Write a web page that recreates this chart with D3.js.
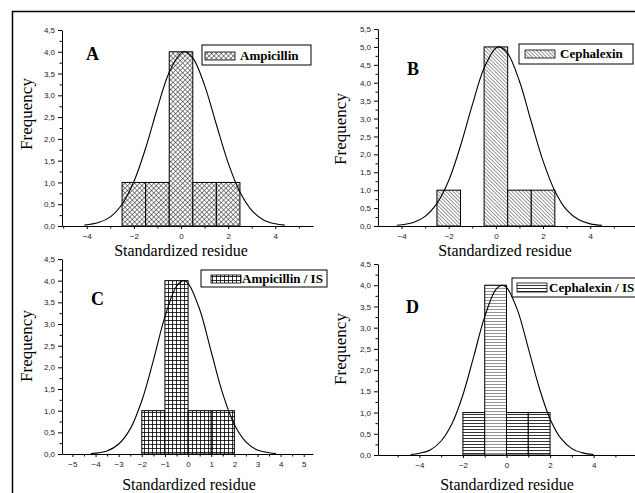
<!DOCTYPE html>
<html>
<head>
<meta charset="utf-8">
<script src="https://cdn.jsdelivr.net/npm/d3@7"></script>
<style>
    body { margin: 0; background: #fff; }
    svg { display: block; }
</style>
</head>
<body>
<svg id="chart" width="635" height="493"></svg>
<script>
// Histogram bins (left edge of each bin, width 1) and counts
const binLeftA = [-2.5, -1.5, -0.5, 0.5, 1.5];
const countsA = [1, 1, 4, 1, 1];
const binLeftB = [-2.5, -0.5, 0.5, 1.5];
const countsB = [1, 5, 1, 1];
const binLeftC = [-2, -1, 0, 1];
const countsC = [1, 4, 1, 1];
const binLeftD = [-2, -1, 0, 1];
const countsD = [1, 4, 1, 1];
const binWidth = 1;

// Normal fit curves
const fitXA = [-4.1, -3.5, -3, -2.5, -2, -1.5, -1, -0.5, 0, 0.15, 0.5, 1, 1.5, 2, 2.5, 3, 3.5, 4, 4.4];
const fitYA = [0.02, 0.08, 0.21, 0.50, 1.02, 1.79, 2.71, 3.53, 3.97, 4.0, 3.86, 3.23, 2.33, 1.45, 0.78, 0.36, 0.14, 0.05, 0.02];
const fitXB = [-4.2, -3.5, -3, -2.5, -2, -1.5, -1, -0.5, 0, 0.15, 0.5, 1, 1.5, 2, 2.5, 3, 3.5, 4, 4.5];
const fitYB = [0.02, 0.10, 0.27, 0.63, 1.27, 2.24, 3.38, 4.41, 4.97, 5.0, 4.82, 4.04, 2.91, 1.82, 0.98, 0.45, 0.18, 0.06, 0.02];
const fitXC = [-4.2, -3.5, -3, -2.5, -2, -1.5, -1, -0.5, -0.2, 0, 0.5, 1, 1.5, 2, 2.5, 3, 3.5, 3.8];
const fitYC = [0.01, 0.07, 0.23, 0.58, 1.23, 2.16, 3.17, 3.87, 4.0, 3.94, 3.34, 2.36, 1.39, 0.68, 0.28, 0.09, 0.03, 0.01];
const fitXD = [-4.4, -4, -3.5, -3, -2.5, -2, -1.5, -1, -0.5, -0.2, 0, 0.5, 1, 1.5, 2, 2.5, 3, 3.5, 4];
const fitYD = [0.01, 0.04, 0.12, 0.33, 0.74, 1.42, 2.33, 3.26, 3.89, 4.0, 3.95, 3.42, 2.52, 1.59, 0.85, 0.39, 0.15, 0.05, 0.01];

// Tick values
const xMajorEven = [-4, -2, 0, 2, 4];
const xMinorOdd = [-5, -3, -1, 1, 3, 5];
const xMajorC = [-5, -4, -3, -2, -1, 0, 1, 2, 3, 4, 5];
const xMinorC = [-5.5, -4.5, -3.5, -2.5, -1.5, -0.5, 0.5, 1.5, 2.5, 3.5, 4.5];
const yMajor45 = [0, 0.5, 1, 1.5, 2, 2.5, 3, 3.5, 4, 4.5];
const yMajor55 = [0, 0.5, 1, 1.5, 2, 2.5, 3, 3.5, 4, 4.5, 5, 5.5];

const legendLabels = ['Ampicillin', 'Cephalexin', 'Ampicillin / IS', 'Cephalexin / IS'];
const panelLetters = ['A', 'B', 'C', 'D'];

const svg = d3.select('#chart');
const serif = '"Liberation Serif", "Times New Roman", serif';
const sans = '"Liberation Sans", Arial, sans-serif';
const commaFmt = (d) => d3.format('.1f')(d).replace('.', ',');

// Fill patterns
const defs = svg.append('defs');

// crosshatch (A)
const pCross = defs.append('pattern')
    .attr('id', 'cross').attr('patternUnits', 'userSpaceOnUse')
    .attr('width', 3.4).attr('height', 3.4)
    .attr('patternTransform', 'rotate(45)');
pCross.append('rect').attr('width', 3.4).attr('height', 3.4).attr('fill', '#fff');
pCross.append('path').attr('d', 'M0,0V3.4M0,0H3.4')
    .attr('stroke', '#000').attr('stroke-width', 0.9);

// diagonal lines (B)
const pDiag = defs.append('pattern')
    .attr('id', 'diag').attr('patternUnits', 'userSpaceOnUse')
    .attr('width', 2.6).attr('height', 2.6)
    .attr('patternTransform', 'rotate(-45)');
pDiag.append('rect').attr('width', 2.6).attr('height', 2.6).attr('fill', '#fff');
pDiag.append('path').attr('d', 'M0,0V2.6')
    .attr('stroke', '#000').attr('stroke-width', 0.8);

// square grid (C)
const pGrid = defs.append('pattern')
    .attr('id', 'grid').attr('patternUnits', 'userSpaceOnUse')
    .attr('width', 4).attr('height', 4);
pGrid.append('rect').attr('width', 4).attr('height', 4).attr('fill', '#fff');
pGrid.append('path').attr('d', 'M0.5,0V4M0,0.5H4')
    .attr('stroke', '#000').attr('stroke-width', 0.8);

// horizontal lines (D)
['hl', 'hlLight'].forEach((id, i) => {
    const p = defs.append('pattern')
        .attr('id', id).attr('patternUnits', 'userSpaceOnUse')
        .attr('width', 4).attr('height', 3);
    p.append('rect').attr('width', 4).attr('height', 3).attr('fill', '#fff');
    p.append('path').attr('d', 'M0,0.5H4')
        .attr('stroke', i ? '#777' : '#000').attr('stroke-width', 0.8);
});

const panels = [
    {
        bins: binLeftA, counts: countsA, fitX: fitXA, fitY: fitYA,
        xDomain: [-5.05, 5.6], xRange: [62, 313], yDomain: [0, 4.5], yRange: [226, 30],
        yTicks: yMajor45, xMajor: xMajorEven, xMinor: xMinorOdd, fill: () => 'url(#cross)',
        letterPos: [86, 60], legend: { x: 202, y: 45, w: 109, h: 20, sx: 205, sy: 52, sh: 8, tx: 240, ty: 60 },
        freqPos: [32, 114], xLabelPos: [181, 256]
    },
    {
        bins: binLeftB, counts: countsB, fitX: fitXB, fitY: fitYB,
        xDomain: [-5.0, 5.9], xRange: [378, 635], yDomain: [0, 5.5], yRange: [226, 29],
        yTicks: yMajor55, xMajor: xMajorEven, xMinor: xMinorOdd, fill: () => 'url(#diag)',
        letterPos: [407, 75], legend: { x: 519, y: 44, w: 114, h: 20, sx: 525, sy: 50, sh: 8, tx: 560, ty: 58 },
        freqPos: [346, 129], xLabelPos: [505, 256]
    },
    {
        bins: binLeftC, counts: countsC, fitX: fitXC, fitY: fitYC,
        xDomain: [-5.45, 5.4], xRange: [62, 313], yDomain: [0, 4.5], yRange: [454, 259],
        yTicks: yMajor45, xMajor: xMajorC, xMinor: xMinorC, fill: () => 'url(#grid)',
        letterPos: [91, 305], legend: { x: 201, y: 270, w: 126, h: 17, sx: 211, sy: 275, sh: 8, tx: 242, ty: 283 },
        freqPos: [32, 346], xLabelPos: [189, 490]
    },
    {
        bins: binLeftD, counts: countsD, fitX: fitXD, fitY: fitYD,
        xDomain: [-5.9, 5.9], xRange: [378, 635], yDomain: [0, 4.5], yRange: [455, 264],
        yTicks: yMajor45, xMajor: xMajorEven, xMinor: xMinorOdd,
        fill: (i) => (i === 1 ? 'url(#hlLight)' : 'url(#hl)'),
        letterPos: [406, 313], legend: { x: 512, y: 278, w: 135, h: 19, sx: 517, sy: 283, sh: 9, tx: 549, ty: 292 },
        freqPos: [346, 349], xLabelPos: [507, 490]
    }
];

panels.forEach((p, k) => {
    const x = d3.scaleLinear().domain(p.xDomain).range(p.xRange);
    const y = d3.scaleLinear().domain(p.yDomain).range(p.yRange);
    const g = svg.append('g');

    // bars
    g.selectAll('.bar')
        .data(p.bins.map((b, i) => ({ left: b, count: p.counts[i], i })))
        .enter()
        .append('rect')
        .attr('class', 'bar')
        .attr('x', (d) => x(d.left))
        .attr('y', (d) => y(d.count))
        .attr('width', (d) => x(d.left + binWidth) - x(d.left))
        .attr('height', (d) => y(0) - y(d.count))
        .attr('fill', (d) => p.fill(d.i))
        .attr('stroke', '#000')
        .attr('stroke-width', 1);

    // fitted curve
    const line = d3.line()
        .x((d) => x(d[0]))
        .y((d) => y(d[1]))
        .curve(d3.curveCatmullRom);
    g.append('path')
        .datum(p.fitX.map((v, i) => [v, p.fitY[i]]))
        .attr('fill', 'none')
        .attr('stroke', '#000')
        .attr('stroke-width', 1.1)
        .attr('d', line);

    // y axis (major + minor ticks)
    const yMinor = d3.range(p.yDomain[0] + 0.25, p.yDomain[1], 0.5);
    g.append('g')
        .attr('transform', `translate(${p.xRange[0]},0)`)
        .call(d3.axisLeft(y).tickValues(yMinor).tickSize(2.5).tickSizeOuter(0).tickFormat(''))
        .call((a) => a.select('.domain').remove());
    const yAx = g.append('g')
        .attr('transform', `translate(${p.xRange[0]},0)`)
        .call(d3.axisLeft(y).tickValues(p.yTicks).tickSize(4).tickSizeOuter(0).tickPadding(3).tickFormat(commaFmt));

    // x axis (major + minor ticks)
    g.append('g')
        .attr('transform', `translate(0,${p.yRange[0]})`)
        .call(d3.axisBottom(x).tickValues(p.xMinor.filter((v) => v > p.xDomain[0] && v < p.xDomain[1]))
            .tickSize(2.5).tickSizeOuter(0).tickFormat(''))
        .call((a) => a.select('.domain').remove());
    const xAx = g.append('g')
        .attr('transform', `translate(0,${p.yRange[0]})`)
        .call(d3.axisBottom(x).tickValues(p.xMajor).tickSize(3).tickSizeOuter(0).tickPadding(4).tickFormat(d3.format('d')));

    [yAx, xAx].forEach((a) => {
        a.selectAll('text').attr('font-family', sans).attr('font-size', 8).attr('fill', '#222');
        a.select('.domain').attr('stroke', '#000').attr('stroke-width', 1);
    });
    g.selectAll('.tick line').attr('stroke', '#000');

    // axis titles
    g.append('text')
        .attr('transform', `translate(${p.freqPos[0]},${p.freqPos[1]}) rotate(-90)`)
        .attr('text-anchor', 'middle')
        .attr('font-family', serif)
        .attr('font-size', 17)
        .text('Frequency');
    g.append('text')
        .attr('x', p.xLabelPos[0])
        .attr('y', p.xLabelPos[1])
        .attr('text-anchor', 'middle')
        .attr('font-family', serif)
        .attr('font-size', 16)
        .text('Standardized residue');

    // panel letter
    g.append('text')
        .attr('x', p.letterPos[0])
        .attr('y', p.letterPos[1])
        .attr('font-family', serif)
        .attr('font-weight', 'bold')
        .attr('font-size', 18)
        .text(panelLetters[k]);

    // legend
    const L = p.legend;
    g.append('rect')
        .attr('x', L.x).attr('y', L.y).attr('width', L.w).attr('height', L.h)
        .attr('fill', '#fff').attr('stroke', '#000').attr('stroke-width', 1);
    g.append('rect')
        .attr('x', L.sx).attr('y', L.sy).attr('width', 30).attr('height', L.sh)
        .attr('fill', p.fill(0)).attr('stroke', '#000').attr('stroke-width', 0.8);
    g.append('text')
        .attr('x', L.tx).attr('y', L.ty)
        .attr('font-family', serif)
        .attr('font-weight', 'bold')
        .attr('font-size', 13)
        .text(legendLabels[k]);
});

// outer frame (left and top edges)
svg.append('path')
    .attr('d', 'M12.5,493V11.5H635')
    .attr('fill', 'none')
    .attr('stroke', '#000')
    .attr('stroke-width', 1.5);
</script>
</body>
</html>
